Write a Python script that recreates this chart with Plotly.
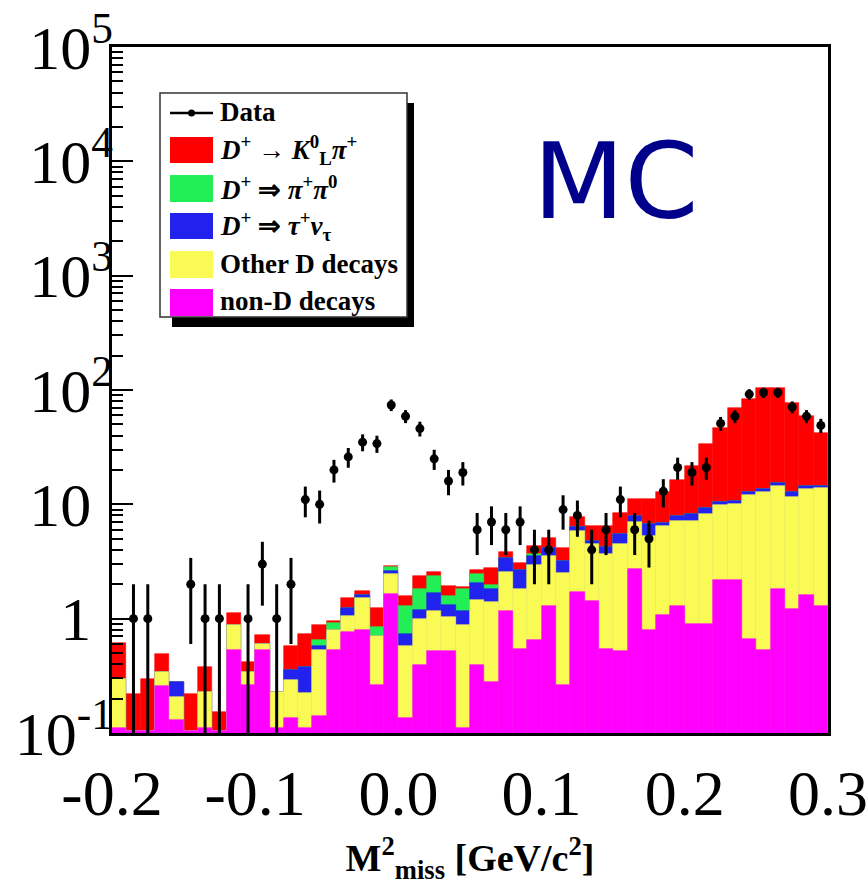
import plotly.graph_objects as go

# ---- data ----
bin_centers = [-0.195, -0.185, -0.175, -0.165, -0.155, -0.145, -0.135, -0.125, -0.115, -0.105,
               -0.095, -0.085, -0.075, -0.065, -0.055, -0.045, -0.035, -0.025, -0.015, -0.005,
               0.005, 0.015, 0.025, 0.035, 0.045, 0.055, 0.065, 0.075, 0.085, 0.095,
               0.105, 0.115, 0.125, 0.135, 0.145, 0.155, 0.165, 0.175, 0.185, 0.195,
               0.205, 0.215, 0.225, 0.235, 0.245, 0.255, 0.265, 0.275, 0.285, 0.295]
bin_width = 0.01

# cumulative stack levels (THStack style: each level includes all layers below)
stack_nonD = [0.11, 0.105, 0.105, 0.256, 0.13, 0.105, 0.11, 0.105, 0.527, 0.262,
              0.527, 0.11, 0.135, 0.11, 0.14, 0.527, 0.77, 0.79, 0.262, 1.65,
              0.135, 0.39, 0.517, 0.517, 0.11, 0.39, 0.278, 1.17, 0.538, 0.657,
              1.29, 0.262, 1.72, 1.43, 0.538, 0.517, 2.72, 0.80, 1.08, 1.29,
              0.905, 0.905, 2.18, 2.18, 0.67, 0.527, 1.82, 1.22, 1.62, 1.29]
stack_otherD = [0.295, 0.105, 0.105, 0.34, 0.206, 0.105, 0.227, 0.105, 0.886, 0.34,
                0.595, 0.227, 0.289, 0.223, 0.527, 0.80, 1.06, 1.52, 0.71, 2.46,
                0.58, 1.0, 1.17, 1.04, 0.886, 1.46, 1.41, 2.56, 1.8, 2.95,
                3.54, 2.51, 5.83, 4.48, 3.67, 4.48, 6.96, 5.26, 6.45, 7.11,
                7.11, 8.16, 9.8, 10.0, 11.96, 12.9, 14.6, 11.7, 13.7, 14.0]
stack_taunu = [0.295, 0.105, 0.105, 0.34, 0.278, 0.105, 0.227, 0.105, 0.886, 0.34,
               0.595, 0.227, 0.353, 0.375, 0.58, 0.80, 1.25, 1.62, 0.71, 2.61,
               0.74, 1.2, 1.68, 1.32, 1.17, 2.06, 1.82, 3.39, 2.67, 3.54,
               4.14, 3.2, 6.32, 4.76, 4.22, 5.47, 7.85, 6.68, 6.83, 7.85,
               8.16, 9.2, 10.4, 10.6, 12.7, 13.7, 15.5, 12.7, 14.6, 14.6]
stack_pipi0 = [0.295, 0.105, 0.105, 0.34, 0.278, 0.105, 0.227, 0.105, 0.886, 0.34,
               0.595, 0.227, 0.353, 0.375, 0.657, 0.92, 1.25, 1.62, 0.85, 2.83,
               1.29, 1.8, 2.37, 1.59, 1.82, 2.46, 1.98, 3.39, 2.67, 3.67,
               4.14, 3.2, 6.32, 4.76, 4.22, 5.47, 7.85, 6.68, 6.83, 7.85,
               8.16, 9.2, 10.4, 10.6, 12.7, 13.7, 15.5, 12.7, 14.6, 14.6]
stack_KLpi = [0.61, 0.22, 0.295, 0.49, 0.278, 0.22, 0.375, 0.152, 1.13, 0.414,
              0.726, 0.227, 0.58, 0.74, 0.886, 0.96, 1.52, 1.75, 1.25, 2.89,
              1.59, 2.37, 2.56, 1.94, 1.9, 2.67, 2.78, 3.83, 3.07, 4.3,
              5.05, 4.14, 7.7, 6.45, 6.45, 8.32, 11.05, 11.05, 12.9, 16.2,
              21.8, 33.8, 46.6, 69.5, 83.3, 103.8, 103.8, 76.8, 59.3, 42.0]

data_counts = [None, 1, 1, None, None, 2, 1, 1, None, 1,
               3, 1, 2, 11, 10, 20, 26, 35, 34, 74,
               59, 46, 25, 16, 19, 6, 7, 6, 7, 4,
               4, 9, 8, 4, 6, 11, 6, 5, 13, 21,
               19, 21, 51, 59, 92, 95, 95, 71, 59, 49]
data_errors = [None, 1, 1, None, None, 1.4, 1, 1, None, 1,
               1.7, 1, 1.4, 3.3, 3.2, 4.5, 5.1, 5.9, 5.8, 8.6,
               7.7, 6.8, 5, 4, 4.4, 2.4, 2.6, 2.4, 2.6, 2,
               2, 3, 2.8, 2, 2.4, 3.3, 2.4, 2.2, 3.6, 4.6,
               4.4, 4.6, 7.1, 7.7, 9.6, 9.7, 9.7, 8.4, 7.7, 7]

x_tickvals = [-0.2, -0.1, 0.0, 0.1, 0.2, 0.3]
x_ticktext = ["-0.2", "-0.1", "0.0", "0.1", "0.2", "0.3"]
y_tickvals = [0.1, 1, 10, 100, 1000, 10000, 100000]
PAD = "<sup><span style='color:rgba(0,0,0,0)'>0</span></sup>"
y_ticktext = ["10<sup>-1</sup>", "1" + PAD, "10" + PAD, "10<sup>2</sup>", "10<sup>3</sup>",
              "10<sup>4</sup>", "10<sup>5</sup>"]

legend_labels = ["Data",
                 "<i>D</i><sup>+</sup> → <i>K</i><sup>0</sup><sub>L</sub><i>π</i><sup>+</sup>",
                 "<i>D</i><sup>+</sup> ⇒ <i>π</i><sup>+</sup><i>π</i><sup>0</sup>",
                 "<i>D</i><sup>+</sup> ⇒ <i>τ</i><sup>+</sup><i>ν</i><sub>τ</sub>",
                 "Other D decays",
                 "non-D decays"]

C_RED = "#FF0000"
C_GREEN = "#22EE55"
C_BLUE = "#2222EE"
C_YELLOW = "#FAFA55"
C_MAGENTA = "#FF00FF"

# ---- figure ----
W, H = 868, 885
ML, MR, MT, MB = 112, 40, 47, 152
PW, PH = W - ML - MR, H - MT - MB

def px(xp):
    return (xp - ML) / PW

def py(yp):
    return (H - MB - yp) / PH

fig = go.Figure()
for levels, col in [(stack_KLpi, C_RED), (stack_pipi0, C_GREEN), (stack_taunu, C_BLUE),
                    (stack_otherD, C_YELLOW), (stack_nonD, C_MAGENTA)]:
    fig.add_trace(go.Bar(x=bin_centers, y=levels, width=bin_width,
                         marker=dict(color=col, line=dict(color=col, width=0.6)),
                         showlegend=False, hoverinfo="skip"))

fig.add_trace(go.Scatter(x=bin_centers, y=data_counts, mode="markers",
                         marker=dict(color="black", size=9),
                         error_y=dict(type="data", array=data_errors, color="black",
                                      thickness=3, width=0),
                         showlegend=False))

serif = "Liberation Serif"
fig.update_layout(
    width=W, height=H,
    margin=dict(l=ML, r=MR, t=MT, b=MB),
    paper_bgcolor="white", plot_bgcolor="white",
    barmode="overlay", bargap=0,
    font=dict(family=serif, color="black"),
    xaxis=dict(range=[-0.2, 0.3], showline=True, mirror=True, linecolor="black",
               linewidth=2.5, ticks="", tickvals=x_tickvals, ticktext=x_ticktext,
               tickfont=dict(family=serif, size=64), showgrid=False, zeroline=False,
               ticklabelstandoff=2, automargin=False,
               title=dict(text="<b>M<sup>2</sup><sub>miss</sub> [GeV/c<sup>2</sup>]</b>",
                          font=dict(family=serif, size=38), standoff=30)),
    yaxis=dict(type="log", range=[-1, 5], showline=True, mirror=True, linecolor="black",
               linewidth=2.5, ticks="inside", ticklen=21, tickwidth=2, tickcolor="black",
               tickvals=y_tickvals, ticktext=y_ticktext, automargin=False,
               tickfont=dict(family=serif, size=62), showgrid=False, zeroline=False,
               ticklabelstandoff=-16,
               minor=dict(ticks="inside", ticklen=11, tickwidth=1.5, tickcolor="black",
                          dtick="D1", showgrid=False)),
)

# legend box (drawn manually, ROOT style with drop shadow)
shapes = [
    dict(type="rect", xref="paper", yref="paper", x0=px(172), x1=px(414), y0=py(327), y1=py(103),
         fillcolor="black", line=dict(width=0), layer="above"),
    dict(type="rect", xref="paper", yref="paper", x0=px(160), x1=px(407), y0=py(317), y1=py(93),
         fillcolor="white", line=dict(color="#333333", width=1.5), layer="above"),
    dict(type="line", xref="paper", yref="paper", x0=px(170), x1=px(213), y0=py(113), y1=py(113),
         line=dict(color="black", width=2.5), layer="above"),
    dict(type="circle", xref="paper", yref="paper", x0=px(188), x1=px(195), y0=py(116.5), y1=py(109.5),
         fillcolor="black", line=dict(width=0), layer="above"),
]
box_rows = [(137, 163, C_RED), (175, 202, C_GREEN), (213, 239, C_BLUE),
            (251, 278, C_YELLOW), (289, 316, C_MAGENTA)]
for y0, y1, col in box_rows:
    shapes.append(dict(type="rect", xref="paper", yref="paper", x0=px(170), x1=px(213),
                       y0=py(y1), y1=py(y0), fillcolor=col, line=dict(width=0), layer="above"))

text_y = [112, 150, 188, 226, 264, 301]
annotations = []
for lab, ty in zip(legend_labels, text_y):
    annotations.append(dict(text="<b>" + lab + "</b>", xref="paper", yref="paper",
                            x=px(218), y=py(ty), xanchor="left", yanchor="middle",
                            showarrow=False, font=dict(family=serif, size=27, color="black")))
annotations.append(dict(text="MC", xref="paper", yref="paper", x=px(615), y=py(181),
                        xanchor="center", yanchor="middle", showarrow=False,
                        font=dict(family="DejaVu Sans", size=106, color="#00008B")))

fig.update_layout(shapes=shapes, annotations=annotations)
fig.write_html("out.html")
